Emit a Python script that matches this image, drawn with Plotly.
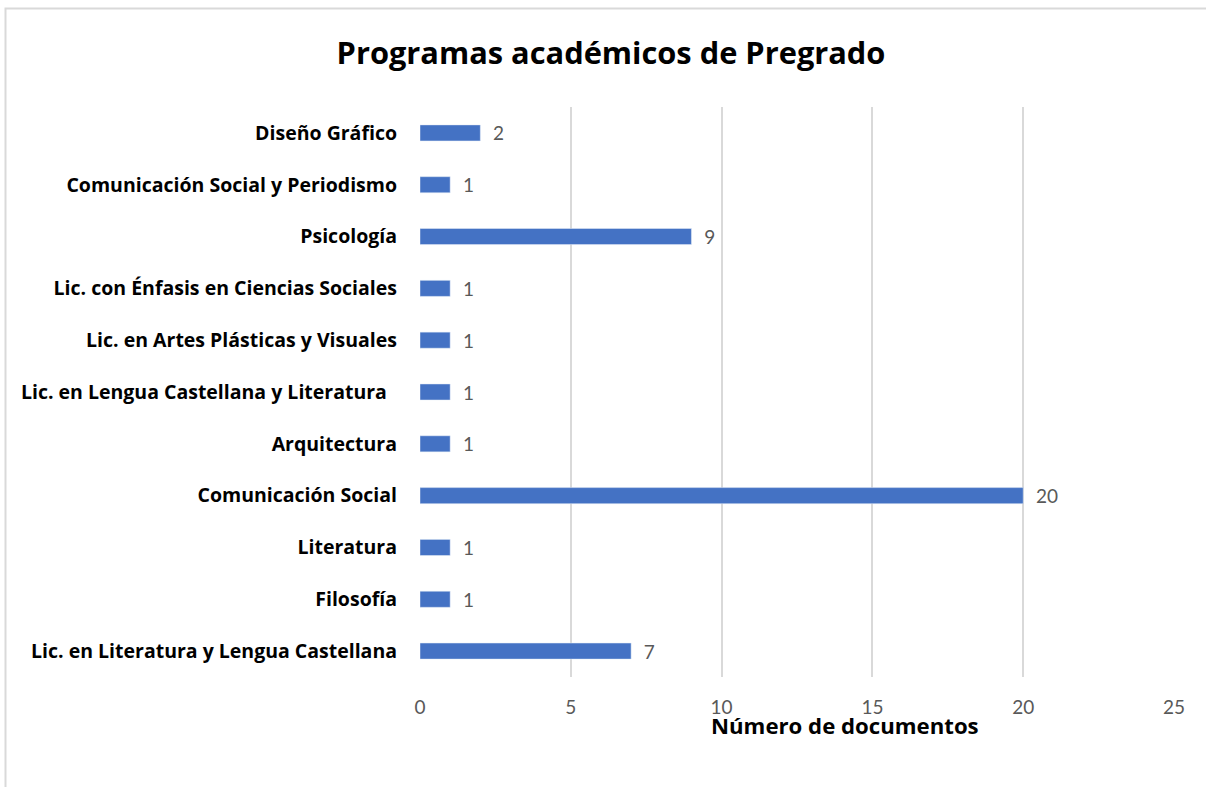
import plotly.graph_objects as go

# programas (de abajo hacia arriba, como en el eje)
programas = [
    "Lic. en Literatura y Lengua Castellana",
    "Filosofía",
    "Literatura",
    "Comunicación Social",
    "Arquitectura",
    "Lic. en Lengua Castellana y Literatura\u00a0\u00a0",
    "Lic. en Artes Plásticas y Visuales",
    "Lic. con Énfasis en Ciencias Sociales",
    "Psicología",
    "Comunicación Social y Periodismo",
    "Diseño Gráfico",
]
documentos = [7, 1, 1, 20, 1, 1, 1, 1, 9, 1, 2]
ticks_x = [0, 5, 10, 15, 20, 25]

# area de trazado en pixeles: x 420-1174, y 107-677
L, R, T, B = 420, 1174, 107, 677
W, H = R - L, B - T

fig = go.Figure()
fig.add_trace(go.Bar(
    x=documentos, y=programas, orientation="h",
    marker=dict(color="#4472C4"), width=0.31,
    text=documentos, texttemplate="  %{text}", textposition="outside",
    constraintext="none",
    textfont=dict(size=19, color="#595959", family="Lato"),
    cliponaxis=False,
))

fig.update_layout(
    width=1206, height=787,
    paper_bgcolor="white", plot_bgcolor="white",
    margin=dict(l=L, r=1206 - R, t=T, b=787 - B),
    font=dict(family="Lato"),
    showlegend=False,
    title=dict(text="<b>Programas académicos de Pregrado</b>",
               x=611 / 1206, xanchor="center", y=1 - 53 / 787, yanchor="middle",
               font=dict(size=30.8, color="black", family="Open Sans")),
)
fig.update_xaxes(range=[0, 25], tickvals=ticks_x, showgrid=True,
                 gridcolor="#D9D9D9", gridwidth=1.5, zeroline=False,
                 showline=False, tickfont=dict(size=19, color="#595959"),
                 ticklabelstandoff=17, automargin=False)
fig.update_yaxes(range=[-0.5, 10.5], showgrid=False, showline=False,
                 ticks="", ticklabelstandoff=22, automargin=False,
                 tickfont=dict(size=19.5, color="black", family="Open Sans"),
                 tickprefix="<b>", ticksuffix="</b>")

# titulo del eje x
fig.add_annotation(text="<b>Número de documentos</b>", xref="paper", yref="paper",
                   x=(845 - L) / W, y=(B - 725) / H, xanchor="center", yanchor="middle",
                   showarrow=False, font=dict(size=22.2, color="black", family="Open Sans"))

# marco del grafico
fig.add_shape(type="rect", xref="paper", yref="paper",
              x0=(5.5 - L) / W, x1=(1215 - L) / W, y0=(B - 800) / H, y1=(B - 8.5) / H,
              line=dict(color="#D9D9D9", width=2))

fig.write_html("out.html", config={"displayModeBar": False},
               post_script="document.body.style.margin='0';")
